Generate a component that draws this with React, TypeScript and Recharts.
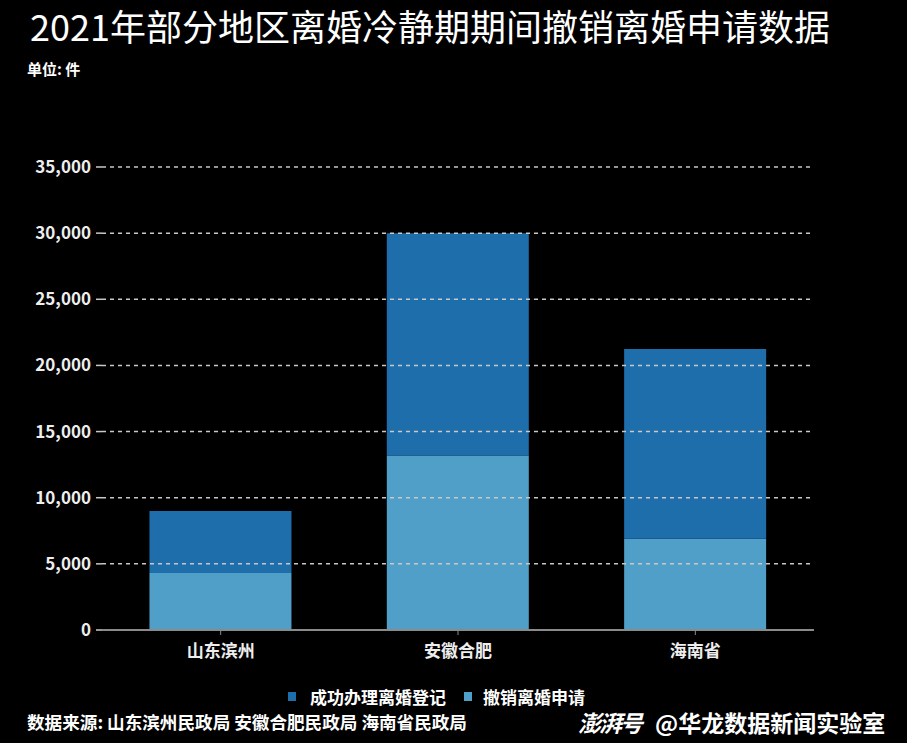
import { BarChart, Bar, XAxis, YAxis, ReferenceLine } from "recharts"

const regions = ["山东滨州", "安徽合肥", "海南省"]
const withdrawn = [4300, 13200, 6900]
const registered = [4700, 16800, 14350]
const yTicks = [0, 5000, 10000, 15000, 20000, 25000, 30000, 35000]

const seriesNames = { registered: "成功办理离婚登记", withdrawn: "撤销离婚申请" }

const data = regions.map((region, i) => ({
  region,
  withdrawn: withdrawn[i],
  registered: registered[i]
}))

const DARK = "#1f6eac"
const LIGHT = "#509fc8"
const FONT = '"Noto Sans CJK SC", "Noto Sans", sans-serif'

function App() {

  return (
    <div
      style={{
        position: "absolute",
        left: 0,
        top: 0,
        width: 907,
        height: 743,
        background: "#000",
        fontFamily: FONT,
        color: "#fff",
        overflow: "hidden"
      }}
    >
      <div style={{ position: "absolute", left: 0, width: 860, top: 0, textAlign: "center", fontSize: 36, lineHeight: "50px" }}>
        2021年部分地区离婚冷静期期间撤销离婚申请数据
      </div>
      <div style={{ position: "absolute", left: 27, top: 58, fontSize: 15, fontWeight: "bold" }}>
        单位: 件
      </div>

      <div style={{ position: "absolute", left: 0, top: 0 }}>
        <BarChart
          width={907}
          height={743}
          data={data}
          margin={{ top: 167, right: 93, bottom: 83, left: 32 }}
          barCategoryGap="20%"
        >
          <XAxis
            dataKey="region"
            axisLine={{ stroke: "#8a8a8a", strokeWidth: 2 }}
            tickLine={{ stroke: "#8a8a8a" }}
            tickSize={5}
            tickMargin={10}
            height={30}
            tick={{ fill: "#eee", fontSize: 17, fontWeight: "bold", fontFamily: FONT }}
          />
          <YAxis
            domain={[0, 35000]}
            ticks={yTicks}
            width={70}
            axisLine={false}
            tickLine={{ stroke: "#c8c8c8", strokeWidth: 1.5 }}
            tickSize={6}
            tickMargin={5}
            tickFormatter={(v: number) => v.toLocaleString("en-US")}
            tick={{ fill: "#eee", fontSize: 17, fontWeight: "bold", fontFamily: FONT }}
          />
          <Bar dataKey="withdrawn" stackId="a" fill={LIGHT} name={seriesNames.withdrawn} isAnimationActive={false} />
          <Bar dataKey="registered" stackId="a" fill={DARK} name={seriesNames.registered} isAnimationActive={false} />
          {yTicks.slice(1).map((t) => (
            <ReferenceLine key={t} y={t} stroke="#c8c8c8" strokeWidth={1.5} strokeDasharray="4 4" />
          ))}
        </BarChart>
      </div>

      <div
        style={{
          position: "absolute",
          left: 288,
          top: 684,
          display: "flex",
          alignItems: "center",
          fontSize: 17,
          fontWeight: "bold",
          whiteSpace: "nowrap"
        }}
      >
        <span style={{ width: 8, height: 9, background: DARK, marginRight: 14, display: "inline-block" }} />
        <span style={{ marginRight: 18 }}>{seriesNames.registered}</span>
        <span style={{ width: 8, height: 9, background: LIGHT, marginRight: 11, display: "inline-block" }} />
        <span>{seriesNames.withdrawn}</span>
      </div>

      <div style={{ position: "absolute", left: 27, top: 709, fontSize: 17.6, fontWeight: "bold", whiteSpace: "nowrap" }}>
        数据来源: 山东滨州民政局 安徽合肥民政局 海南省民政局
      </div>
      <div style={{ position: "absolute", left: 578, top: 705, fontSize: 23, fontWeight: "bold", whiteSpace: "nowrap" }}>
        <span style={{ fontStyle: "italic", letterSpacing: -2, marginRight: 14 }}>澎湃号</span>
        <span>@华龙数据新闻实验室</span>
      </div>
    </div>
  )
}

export default App
